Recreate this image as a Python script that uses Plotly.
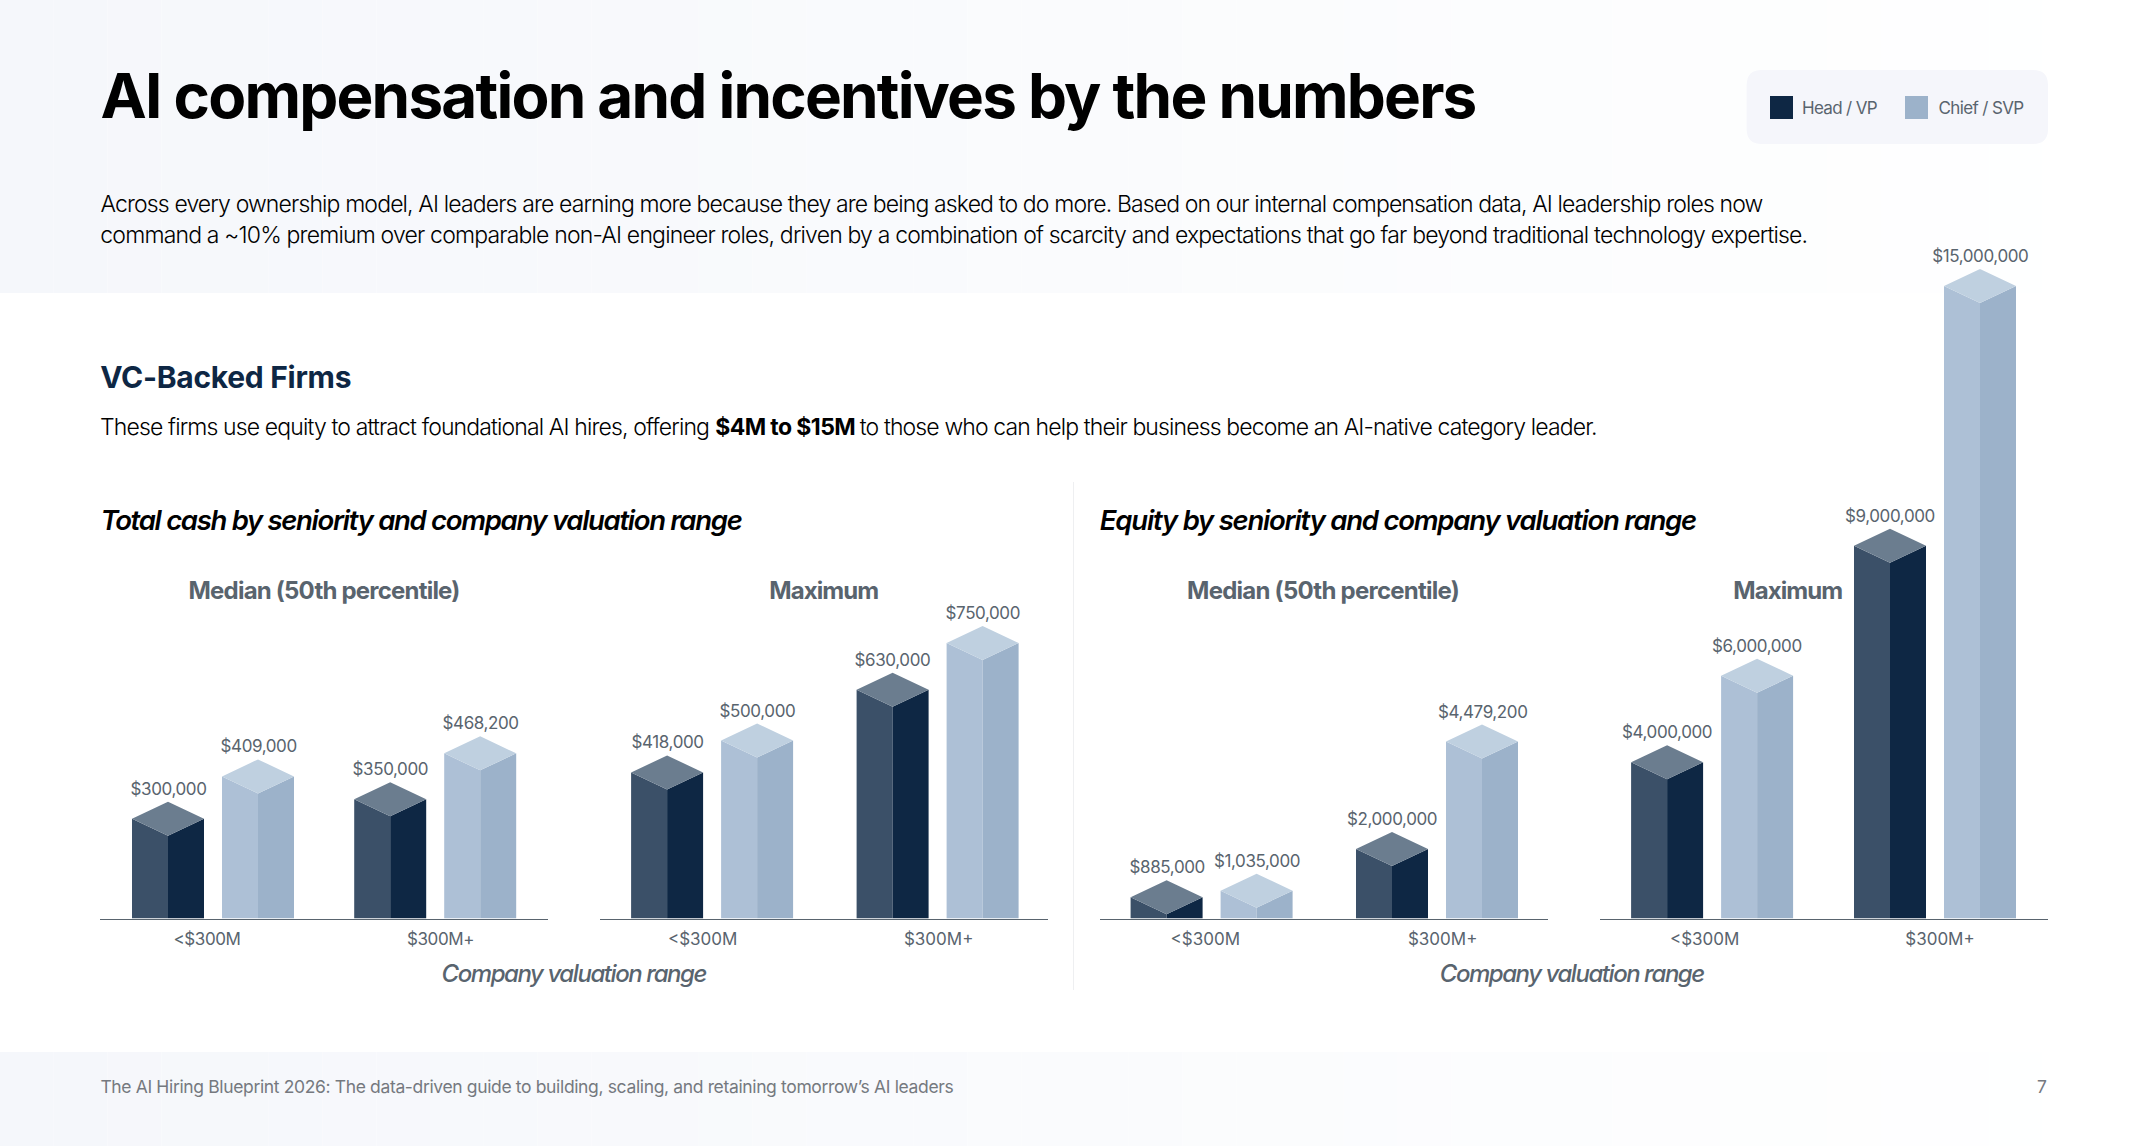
import json
import plotly.graph_objects as go

# ---- chart values ----
GROUPS = ["<$300M", "$300M+"]
CASH_MEDIAN_HEAD = [300000, 350000]
CASH_MEDIAN_CHIEF = [409000, 468200]
CASH_MAX_HEAD = [418000, 630000]
CASH_MAX_CHIEF = [500000, 750000]
EQUITY_MEDIAN_HEAD = [885000, 2000000]
EQUITY_MEDIAN_CHIEF = [1035000, 4479200]
EQUITY_MAX_HEAD = [4000000, 9000000]
EQUITY_MAX_CHIEF = [6000000, 15000000]

W, H = 2150, 1146
FONT = "Inter"
INK = "#000000"
NAVY = "#0e2744"
GREY = "#59646e"
FOOT_GREY = "#75797f"
HEAD_FACES = {"left": "#3b5068", "right": "#0e2744", "top": "#6b7d8f"}
CHIEF_FACES = {"left": "#adc0d6", "right": "#9cb2ca", "top": "#bfd0e0"}

# Plot geometry in page pixels
BASE_Y = 918.5
TOP_Y = 100.0
PANEL_W = 448.0
BAR_OFFSET_PX = 45.0
BAR_HALF_PX = 36.0
TOP_RISE = 17.0        # half height of the top face, in pixels
LABEL_TRACKING = -0.4  # px between glyphs of value and tick labels

# One row per chart: head values, chief values, pixels per dollar, panel left edge,
# first group centre, second group centre, and the two tick label centres (pixels).
PANELS = [
    (CASH_MEDIAN_HEAD, CASH_MEDIAN_CHIEF, 0.000389, 100.0, 213.0, 435.2, 207.0, 440.5),
    (CASH_MAX_HEAD, CASH_MAX_CHIEF, 0.000390, 600.0, 712.1, 937.6, 702.7, 938.7),
    (EQUITY_MEDIAN_HEAD, EQUITY_MEDIAN_CHIEF, 0.0000433, 1100.0, 1211.6, 1437.0, 1205.3, 1442.7),
    (EQUITY_MAX_HEAD, EQUITY_MAX_CHIEF, 0.0000433, 1599.5, 1712.1, 1935.0, 1704.7, 1940.0),
]

annotations = []
text_widths = []   # target width of each annotation, or null to keep it tracked


def money(v):
    return f"${v:,.0f}"


def faces(centres, values, half, rise):
    """Polygon outlines of the three visible faces of each block."""
    out = {"left": ([], []), "right": ([], []), "top": ([], [])}
    for c, v in zip(centres, values):
        l, r = c - half, c + half
        shapes = {
            "left": ([l, l, c, c, l], [0, v - rise, v - 2 * rise, 0, 0]),
            "right": ([c, c, r, r, c], [0, v - 2 * rise, v - rise, 0, 0]),
            "top": ([l, c, r, c, l], [v - rise, v, v - rise, v - 2 * rise, v - rise]),
        }
        for k, (xs, ys) in shapes.items():
            out[k][0].extend(xs + [None])
            out[k][1].extend(ys + [None])
    return out


fig = go.Figure()
layout_axes = {}

for i, (head, chief, scale, left, g0, g1, t0, t1) in enumerate(PANELS):
    suffix = "" if i == 0 else str(i + 1)
    xa, ya = f"x{suffix}", f"y{suffix}"
    gap = g1 - g0
    x0 = (left - g0) / gap
    layout_axes[f"xaxis{suffix}"] = dict(
        domain=[left / W, (left + PANEL_W) / W],
        range=[x0, x0 + PANEL_W / gap],
        anchor=ya,
        tickmode="array",
        tickvals=[(t0 - g0) / gap, (t1 - g0) / gap],
        ticktext=GROUPS,
        ticks="outside",
        ticklen=5,
        tickcolor="rgba(0,0,0,0)",
        showgrid=False,
        zeroline=False,
        showline=True,
        linecolor=GREY,
        linewidth=1,
        tickfont=dict(family=FONT, size=17, color=GREY),
    )
    layout_axes[f"yaxis{suffix}"] = dict(
        domain=[1 - BASE_Y / H, 1 - TOP_Y / H],
        range=[0, (BASE_Y - TOP_Y) / scale],
        anchor=xa,
        visible=False,
    )
    rise = TOP_RISE / scale
    for s, (vals, colours, name) in enumerate(
        [(head, HEAD_FACES, "Head / VP"), (chief, CHIEF_FACES, "Chief / SVP")]
    ):
        sign = -1 if s == 0 else 1
        centres = [g + sign * BAR_OFFSET_PX / gap for g in range(len(GROUPS))]
        polys = faces(centres, vals, BAR_HALF_PX / gap, rise)
        for face in ("left", "right", "top"):
            fig.add_trace(go.Scatter(
                x=polys[face][0], y=polys[face][1], xaxis=xa, yaxis=ya,
                mode="lines", fill="toself", fillcolor=colours[face],
                line=dict(width=0), hoverinfo="skip", showlegend=False, name=name,
            ))
        for c, v in zip(centres, vals):
            annotations.append(dict(
                xref=xa, yref=ya, x=c, y=v, xanchor="center", yanchor="bottom",
                yshift=1, showarrow=False, text=money(v),
                font=dict(family=FONT, size=17, color=GREY),
            ))
            text_widths.append(None)


# ---- page furniture ----
def lerp_hex(t, a=(0xf5, 0xf7, 0xfb), b=(0xff, 0xff, 0xff)):
    return "#%02x%02x%02x" % tuple(round(p + (q - p) * t) for p, q in zip(a, b))


shapes = []


def rect(x0, y0, x1, y1, colour):
    shapes.append(dict(type="rect", xref="paper", yref="paper", x0=x0 / W, x1=x1 / W,
                       y0=1 - y1 / H, y1=1 - y0 / H, fillcolor=colour,
                       line=dict(width=0), layer="below"))


# top and bottom bands fade towards white on the right
STEPS = 40
for k in range(STEPS):
    xa0, xa1 = W * k / STEPS, W * (k + 1) / STEPS
    colour = lerp_hex(k / (STEPS - 1))
    rect(xa0, 0, xa1, 293, colour)
    rect(xa0, 1052, xa1, H, colour)

# divider between the two chart pairs
rect(1073, 482, 1074, 990, "#eeeff1")

# legend pill
bx0, by0, bx1, by1, br = 1746.7 / W, 1 - 70 / H, 2048 / W, 1 - 144 / H, 15
rx, ry = br / W, br / H
shapes.append(dict(
    type="path", xref="paper", yref="paper", layer="below", line=dict(width=0),
    fillcolor="#f5f6fb",
    path=(f"M {bx0 + rx} {by0} L {bx1 - rx} {by0} Q {bx1} {by0} {bx1} {by0 - ry} "
          f"L {bx1} {by1 + ry} Q {bx1} {by1} {bx1 - rx} {by1} L {bx0 + rx} {by1} "
          f"Q {bx0} {by1} {bx0} {by1 + ry} L {bx0} {by0 - ry} Q {bx0} {by0} {bx0 + rx} {by0} Z"),
))
rect(1770, 96, 1793, 119, HEAD_FACES["right"])
rect(1905, 96, 1928, 119, CHIEF_FACES["right"])


def label(x0, x1, y, text, size, colour, weight=400, style="normal"):
    """Text centred between x0 and x1; the page script fits it to that width."""
    annotations.append(dict(
        xref="paper", yref="paper", x=(x0 + x1) / 2 / W, y=1 - y / H,
        xanchor="center", yanchor="middle", showarrow=False, text=text,
        font=dict(family=FONT, size=size, color=colour, weight=weight, style=style),
    ))
    text_widths.append(x1 - x0)


label(100, 1475, 96, "AI compensation and incentives by the numbers", 62, INK, 700)
label(100, 1762, 204, "Across every ownership model, AI leaders are earning more because they are being asked to do more. Based on our internal compensation data, AI leadership roles now", 23, INK, 300)
label(100, 1807, 235, "command a ~10% premium over comparable non-AI engineer roles, driven by a combination of scarcity and expectations that go far beyond traditional technology expertise.", 23, INK, 300)
label(100, 351, 376.5, "VC-Backed Firms", 30, NAVY, 700)
label(100, 709, 427, "These firms use equity to attract foundational AI hires, offering", 23, INK, 300)
label(714.5, 854.5, 427, "$4M to $15M", 23, INK, 700)
label(860, 1597, 427, "to those who can help their business become an AI-native category leader.", 23, INK, 300)
label(100, 741, 520, "Total cash by seniority and company valuation range", 27.5, INK, 600, "italic")
label(1100, 1696, 520, "Equity by seniority and company valuation range", 27.5, INK, 600, "italic")
label(188, 459, 590.5, "Median (50th percentile)", 24, GREY, 700)
label(769, 878, 590.5, "Maximum", 24, GREY, 700)
label(1187, 1459, 590.5, "Median (50th percentile)", 24, GREY, 700)
label(1733, 1842, 590.5, "Maximum", 24, GREY, 700)
label(441.5, 706, 973, "Company valuation range", 24, GREY, 500, "italic")
label(1440, 1704, 973, "Company valuation range", 24, GREY, 500, "italic")
label(1802, 1877, 108, "Head / VP", 17, GREY)
label(1938.5, 2023.5, 108, "Chief / SVP", 17, GREY)
label(100, 953, 1086.5, "The AI Hiring Blueprint 2026: The data-driven guide to building, scaling, and retaining tomorrow’s AI leaders", 17.5, FOOT_GREY)
label(2037, 2047, 1086.5, "7", 17.5, FOOT_GREY)

fig.update_layout(
    width=W, height=H,
    margin=dict(l=0, r=0, t=0, b=0),
    paper_bgcolor="#ffffff",
    plot_bgcolor="rgba(0,0,0,0)",
    showlegend=False,
    shapes=shapes,
    annotations=annotations,
    **layout_axes,
)

# Adjust glyph tracking once the page has drawn the text: annotations with a set
# width are fitted to it, value and tick labels get one fixed tracking.
fit_script = """
var widths = %s, tracking = %s;
document.querySelectorAll('g.annotation').forEach(function (g) {
  var t = g.querySelector('text');
  var want = widths[+g.getAttribute('data-index')];
  if (!t) { return; }
  if (want) {
    t.style.letterSpacing = ((want - t.getComputedTextLength()) / t.textContent.length) + 'px';
  } else {
    t.style.letterSpacing = tracking + 'px';
  }
});
document.querySelectorAll('.xtick text').forEach(function (t) {
  t.style.letterSpacing = tracking + 'px';
});
""" % (json.dumps(text_widths), json.dumps(LABEL_TRACKING))

fig.write_html("out.html", post_script=fit_script,
               config=dict(displayModeBar=False, responsive=False))
